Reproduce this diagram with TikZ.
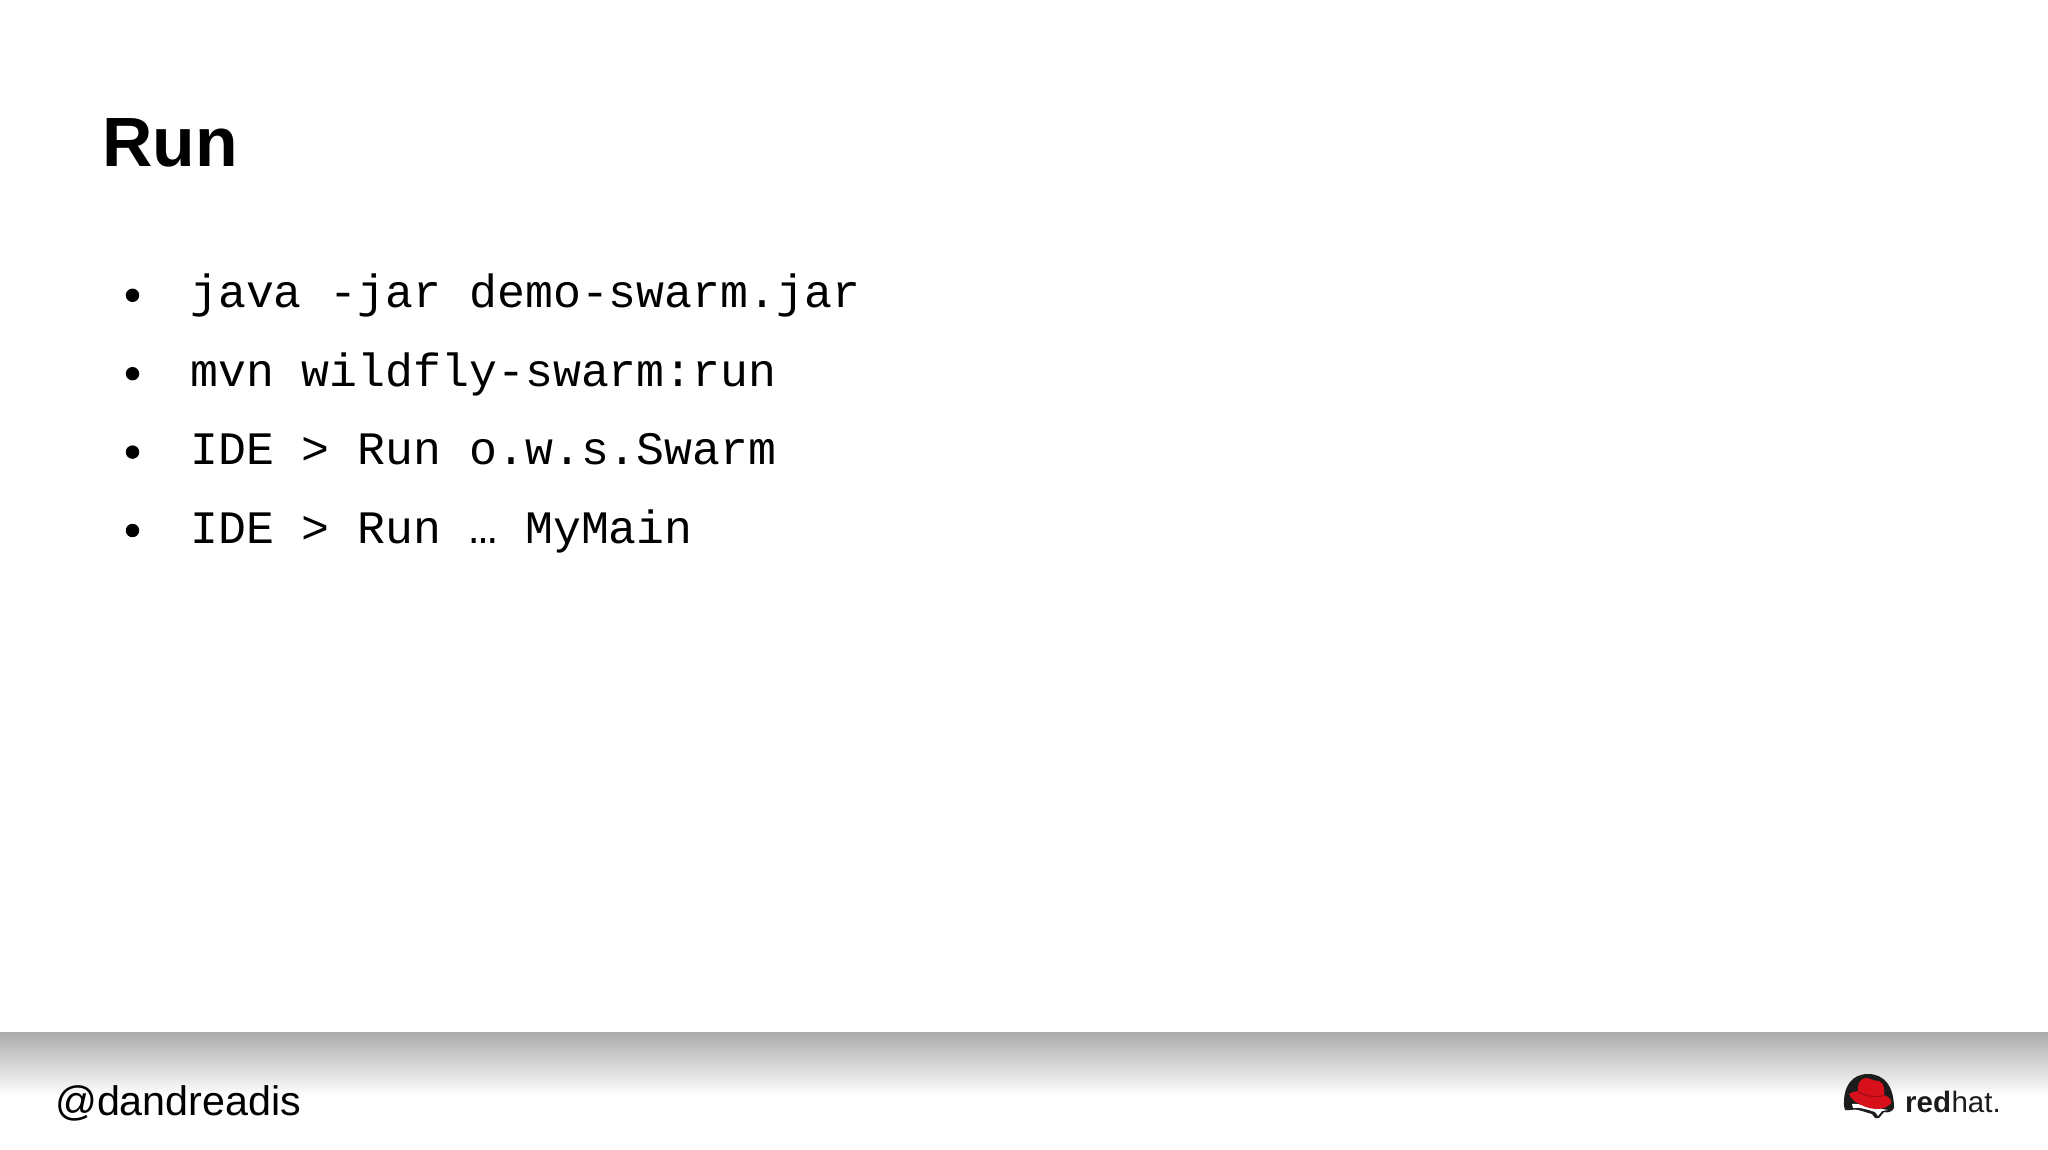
\documentclass[tikz,border=0pt]{standalone}
\usepackage{fontspec}
\setmainfont{Liberation Sans}
\setmonofont{Liberation Mono}
\definecolor{shadetop}{HTML}{ABABAB}
\definecolor{hatred}{HTML}{D8101C}
\definecolor{hatshade}{HTML}{A00C14}
\definecolor{logoink}{HTML}{1C1C1C}
\tikzset{
  px/.style={x=0.0352778cm,y=-0.0352778cm},
  bul/.style={circle,fill=black,inner sep=0pt,minimum size=13.5pt},
  code/.style={anchor=base west,inner sep=0pt,font=\fontsize{46.7}{46.7}\selectfont\ttfamily},
}
\begin{document}
\begin{tikzpicture}[px]
\useasboundingbox (0,0) rectangle (2048,1150);
\fill[white] (0,0) rectangle (2048,1150);
\shade[top color=shadetop,bottom color=white] (0,1032) rectangle (2048,1096);
\node[anchor=base west,inner sep=0pt,font=\fontsize{70}{70}\selectfont\bfseries] (title) at (102,167) {Run};
\foreach \n/\y/\t in {a/307.8/java -jar demo-swarm.jar,b/386.2/mvn wildfly-swarm:run,c/464.6/IDE > Run o.w.s.Swarm,d/543/IDE > Run … MyMain}{
  \node[bul] (b\n) at (132.5,\y-12.5) {};
  \node[code] (t\n) at (190,\y) {\t};
}
\node[anchor=base west,inner sep=0pt,font=\fontsize{41.4}{41.4}\selectfont] (handle) at (55,1115.5) {@dandreadis};
% logo: black dome
\fill[logoink] (1844,1106) .. controls (1843,1086) and (1852,1074) .. (1868,1074)
  .. controls (1884,1074) and (1894,1086) .. (1894,1108)
  .. controls (1892,1112) and (1888,1113) .. (1884,1112)
  -- (1879,1118) -- (1875,1118) -- (1872,1114)
  .. controls (1864,1112) and (1856,1108) .. (1850,1110)
  -- (1845,1110) -- cycle;
% white face
\fill[white] (1852,1104) .. controls (1860,1103) and (1875,1108) .. (1888,1110)
  -- (1882,1111) -- (1878,1116) -- (1875,1112)
  .. controls (1866,1109) and (1858,1107) .. (1853,1108) -- cycle;
% red hat
\fill[hatred] (1849,1094) .. controls (1853,1091) and (1856,1092) .. (1858,1091)
  .. controls (1857,1085) and (1860,1078) .. (1866,1078)
  .. controls (1870,1078) and (1873,1081) .. (1879,1081)
  .. controls (1884,1083) and (1885,1091) .. (1884,1095)
  .. controls (1889,1097) and (1892,1100) .. (1891,1103)
  .. controls (1886,1110) and (1874,1110) .. (1866,1107)
  .. controls (1858,1104) and (1851,1100) .. (1849,1094) -- cycle;
\fill[hatshade] (1858,1091) .. controls (1866,1096) and (1876,1097) .. (1884,1095)
  -- (1884,1096) .. controls (1876,1098) and (1864,1097) .. (1858,1092) -- cycle;
\node[anchor=base west,inner sep=0pt,font=\fontsize{29.6}{29.6}\selectfont\bfseries,text=logoink] (red) at (1905,1112) {red};
\node[anchor=base west,inner sep=0pt,font=\fontsize{29.6}{29.6}\selectfont,text=logoink] (hat) at (red.base east) {hat.};
\end{tikzpicture}
\end{document}
